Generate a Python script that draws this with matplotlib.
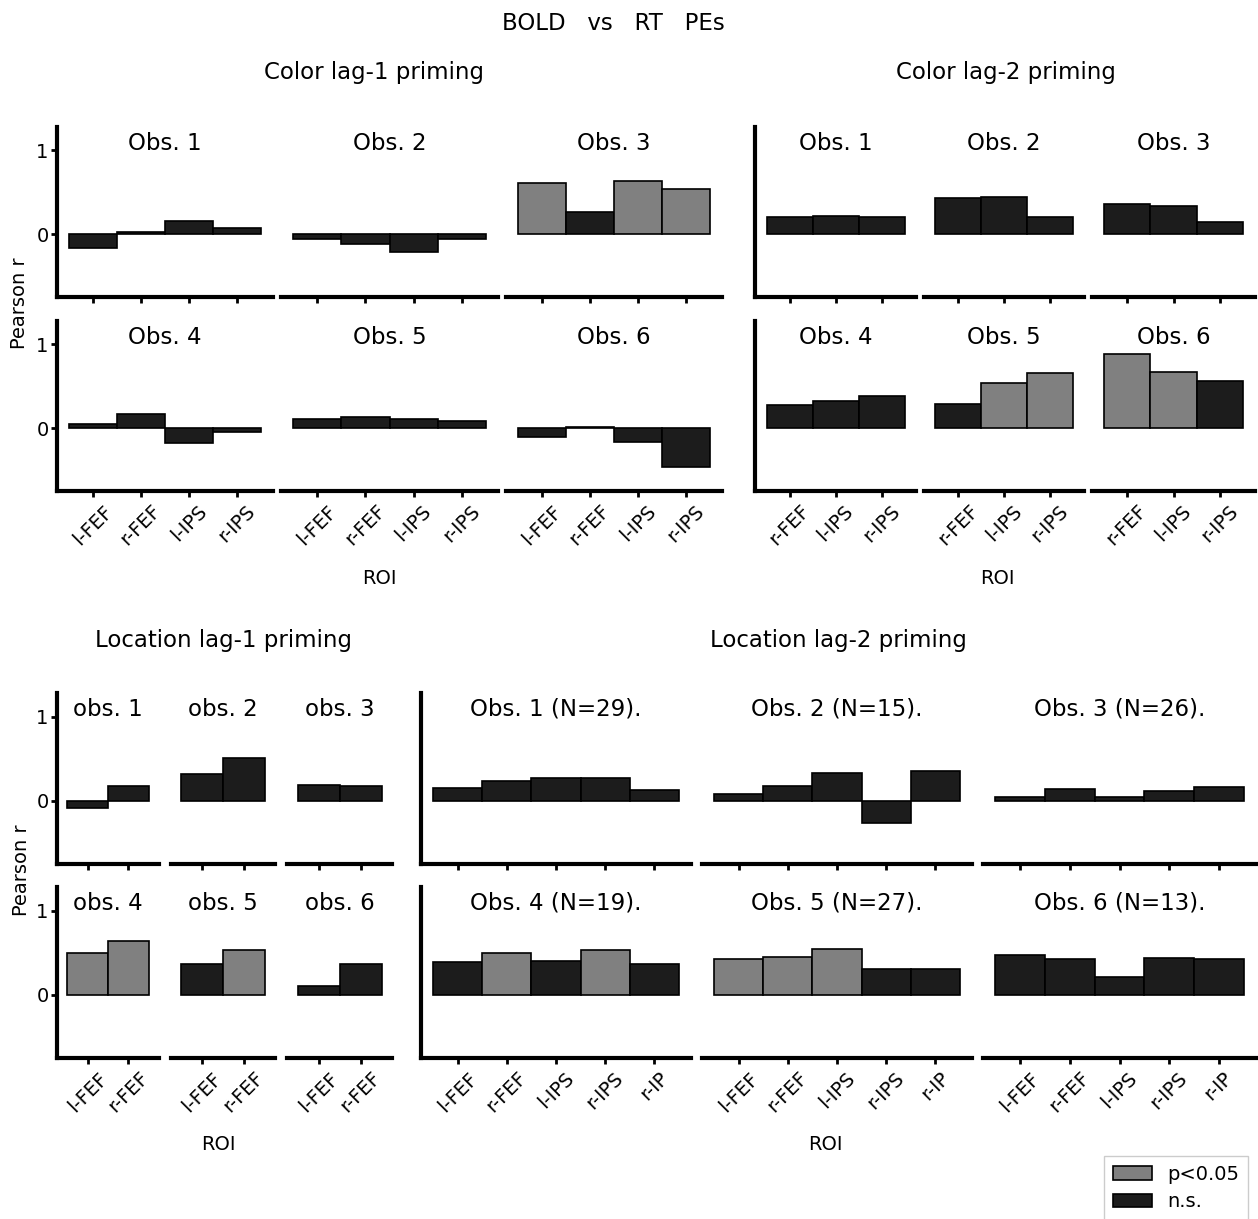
import numpy as np
import matplotlib
matplotlib.use("Agg")
import matplotlib.pyplot as plt
from matplotlib.patches import Patch

# ---- data ----
color_lag1_rois = ["l-FEF", "r-FEF", "l-IPS", "r-IPS"]
color_lag1_r = [[-0.16, 0.03, 0.16, 0.07],
                [-0.06, -0.12, -0.21, -0.06],
                [0.61, 0.26, 0.64, 0.54],
                [0.05, 0.17, -0.18, -0.05],
                [0.11, 0.13, 0.11, 0.08],
                [-0.10, 0.02, -0.17, -0.46]]
color_lag1_sig = [[0, 0, 0, 0], [0, 0, 0, 0], [1, 0, 1, 1],
                  [0, 0, 0, 0], [0, 0, 0, 0], [0, 0, 0, 0]]

color_lag2_rois = ["r-FEF", "l-IPS", "r-IPS"]
color_lag2_r = [[0.21, 0.22, 0.20],
                [0.43, 0.45, 0.21],
                [0.36, 0.34, 0.14],
                [0.28, 0.33, 0.38],
                [0.29, 0.54, 0.66],
                [0.89, 0.67, 0.56]]
color_lag2_sig = [[0, 0, 0], [0, 0, 0], [0, 0, 0],
                  [0, 0, 0], [0, 1, 1], [1, 1, 0]]

loc_lag1_rois = ["l-FEF", "r-FEF"]
loc_lag1_r = [[-0.08, 0.18],
              [0.32, 0.51],
              [0.19, 0.18],
              [0.50, 0.64],
              [0.37, 0.53],
              [0.11, 0.37]]
loc_lag1_sig = [[0, 0], [0, 0], [0, 0], [1, 1], [0, 1], [0, 0]]

loc_lag2_rois = ["l-FEF", "r-FEF", "l-IPS", "r-IPS", "r-IP"]
loc_lag2_r = [[0.15, 0.24, 0.27, 0.27, 0.13],
              [0.08, 0.18, 0.33, -0.26, 0.35],
              [0.04, 0.14, 0.05, 0.12, 0.17],
              [0.39, 0.50, 0.40, 0.53, 0.37],
              [0.42, 0.45, 0.54, 0.31, 0.31],
              [0.47, 0.43, 0.21, 0.44, 0.42]]
loc_lag2_sig = [[0, 0, 0, 0, 0], [0, 0, 0, 0, 0], [0, 0, 0, 0, 0],
                [0, 1, 0, 1, 0], [1, 1, 1, 0, 0], [0, 0, 0, 0, 0]]
loc_lag2_n = [29, 15, 26, 19, 27, 13]

SIG_COL = "#808080"
NS_COL = "#1c1c1c"

W, H = 1258, 1219
fig = plt.figure(figsize=(W / 100, H / 100), dpi=100)


def px_axes(x0, x1, y0, y1):
    # pixel box (top-left origin) -> figure axes
    return fig.add_axes([x0 / W, 1 - y1 / H, (x1 - x0) / W, (y1 - y0) / H])


def draw_group(cols, rows, rois, vals, sig, titles, yticks=True):
    for i in range(6):
        r, c = divmod(i, 3)
        ax = px_axes(cols[c][0], cols[c][1], rows[r][0], rows[r][1])
        x = np.arange(len(rois))
        colors = [SIG_COL if s else NS_COL for s in sig[i]]
        ax.bar(x, vals[i], width=1.0, color=colors, edgecolor="black", linewidth=1.2)
        ax.set_xlim(-0.75, len(rois) - 1 + 0.75)
        ax.set_ylim(-0.75, 1.28)
        for s in ["top", "right"]:
            ax.spines[s].set_visible(False)
        ax.spines["bottom"].set_linewidth(3)
        ax.spines["left"].set_linewidth(3)
        ax.set_xticks(x)
        if r == 1:
            ax.set_xticklabels(rois, rotation=45, fontsize=14)
        else:
            ax.set_xticklabels([])
        ax.tick_params(axis="x", length=4, width=2)
        if c == 0 and yticks:
            ax.set_yticks([0, 1])
            ax.set_yticklabels(["0", "1"], fontsize=14)
            ax.tick_params(axis="y", length=4, width=2, pad=2)
        else:
            ax.set_yticks([])
            if c != 0:
                ax.spines["left"].set_visible(False)
        ax.text(0.5, 0.905, titles[i], transform=ax.transAxes,
                ha="center", va="center", fontsize=16.5)
        ax.patch.set_alpha(0)


rows_top = [(127, 297), (321, 491)]
rows_bot = [(693, 864), (887, 1058)]

draw_group([(57, 273), (281, 498), (506, 722)], rows_top,
           color_lag1_rois, color_lag1_r, color_lag1_sig,
           ["Obs. %d" % k for k in range(1, 7)])
draw_group([(755, 916), (924, 1084), (1092, 1255)], rows_top,
           color_lag2_rois, color_lag2_r, color_lag2_sig,
           ["Obs. %d" % k for k in range(1, 7)], yticks=False)
draw_group([(57, 159), (171, 275), (287, 392)], rows_bot,
           loc_lag1_rois, loc_lag1_r, loc_lag1_sig,
           ["obs. %d" % k for k in range(1, 7)])
draw_group([(421, 691), (702, 972), (983, 1256)], rows_bot,
           loc_lag2_rois, loc_lag2_r, loc_lag2_sig,
           ["Obs. %d (N=%d)." % (k + 1, n) for k, n in enumerate(loc_lag2_n)],
           yticks=False)


def ftext(x, y, s, **kw):
    fig.text(x / W, 1 - y / H, s, ha="center", va="center", **kw)


ftext(613, 23, "BOLD   vs   RT   PEs", fontsize=16.5)
ftext(374, 73, "Color lag-1 priming", fontsize=16.5)
ftext(1006, 73, "Color lag-2 priming", fontsize=16.5)
ftext(223, 640, "Location lag-1 priming", fontsize=16.5)
ftext(838, 640, "Location lag-2 priming", fontsize=16.5)

ftext(379, 578, "ROI", fontsize=14)
ftext(997, 578, "ROI", fontsize=14)
ftext(218, 1145, "ROI", fontsize=14)
ftext(825, 1145, "ROI", fontsize=14)

ftext(20, 303, "Pearson r", fontsize=14, rotation=90)
ftext(22, 870, "Pearson r", fontsize=14, rotation=90)

handles = [Patch(facecolor=SIG_COL, edgecolor="black", linewidth=1.2),
           Patch(facecolor=NS_COL, edgecolor="black", linewidth=1.2)]
fig.legend(handles, ["p<0.05", "n.s."], loc="lower right",
           bbox_to_anchor=(1.0, -0.009), fontsize=14,
           fancybox=False, framealpha=1, edgecolor="#cccccc",
           handlelength=2.0, handleheight=0.7, borderpad=0.45,
           labelspacing=0.45)

fig.savefig("out.png", dpi=100)
